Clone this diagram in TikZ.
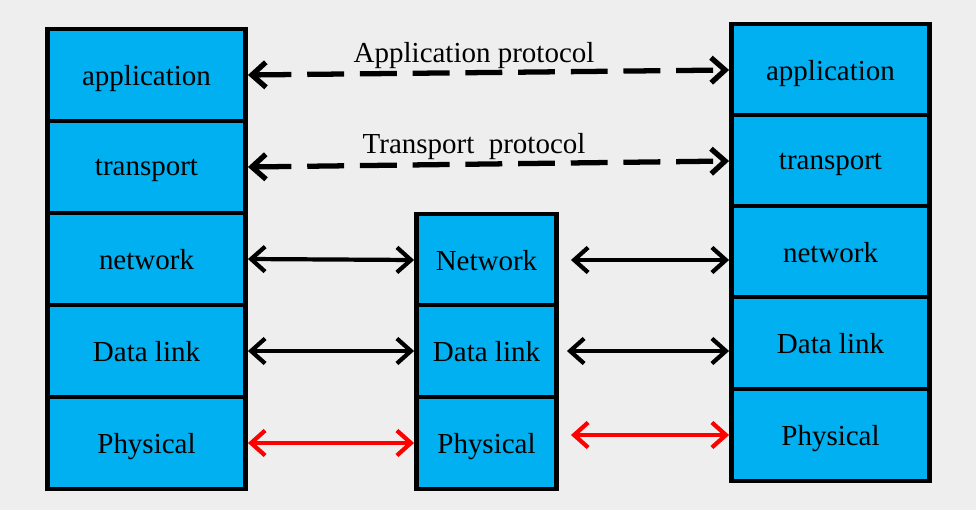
\documentclass[tikz,border=0pt]{standalone}
\usepackage{fontspec}
\setmainfont{Liberation Serif}
\usetikzlibrary{arrows.meta}
\definecolor{layerblue}{HTML}{00B0F0}
\definecolor{bggray}{HTML}{EEEEEE}
\begin{document}
\begin{tikzpicture}[x=0.02cm, y=-0.02cm,
		layer/.style={draw, line width=2.8pt, fill=layerblue, minimum width=3.96cm, minimum height=1.84cm, inner sep=0pt, text depth=0pt, font=\fontsize{16.5}{19}\selectfont},
		midlayer/.style={layer, minimum width=2.8cm},
		link/.style={line width=2.4pt, {Straight Barb[length=2.8mm,width=5mm]}-{Straight Barb[length=2.8mm,width=5mm]}},
		peer/.style={link, line width=3pt, dash pattern=on 21pt off 9pt},
		protolabel/.style={pos=0.47, above, inner sep=1pt, font=\fontsize{16.5}{19}\selectfont}]
		\fill[bggray] (0,0) rectangle (976,510);
		
		\node[layer] (lapp) at (146.5,75) {application};
		\node[layer] (ltra) at (146.5,167) {transport};
		\node[layer] (lnet) at (146.5,259) {network};
		\node[layer] (ldl) at (146.5,351) {Data link};
		\node[layer] (lphy) at (146.5,443) {Physical};
		
		\node[midlayer] (mnet) at (486.5,260) {Network};
		\node[midlayer] (mdl) at (486.5,351) {Data link};
		\node[midlayer] (mphy) at (486.5,443) {Physical};
		
		\node[layer] (rapp) at (830.5,70) {application};
		\node[layer] (rtra) at (830.5,161) {transport};
		\node[layer] (rnet) at (830.5,252) {network};
		\node[layer] (rdl) at (830.5,343) {Data link};
		\node[layer] (rphy) at (830.5,435) {Physical};
		
		\draw[peer] (lapp.east) -- (rapp.west) node[protolabel] {Application protocol};
		\draw[peer] (ltra.east) -- (rtra.west) node[protolabel] {Transport\ \ protocol};
		
		\draw[link] (lnet.east) -- (mnet.west);
		\draw[link] (ldl.east) -- (mdl.west);
		\draw[link, red] (lphy.east) -- (mphy.west);
		
		\draw[link, shorten <=0.24cm] (mnet.east) -- (mnet.east -| rnet.west);
		\draw[link, shorten <=0.16cm] (mdl.east) -- (mdl.east -| rdl.west);
		\draw[link, red, shorten <=0.24cm] (rphy.west -| mphy.east) -- (rphy.west);
	\end{tikzpicture}
\end{document}
